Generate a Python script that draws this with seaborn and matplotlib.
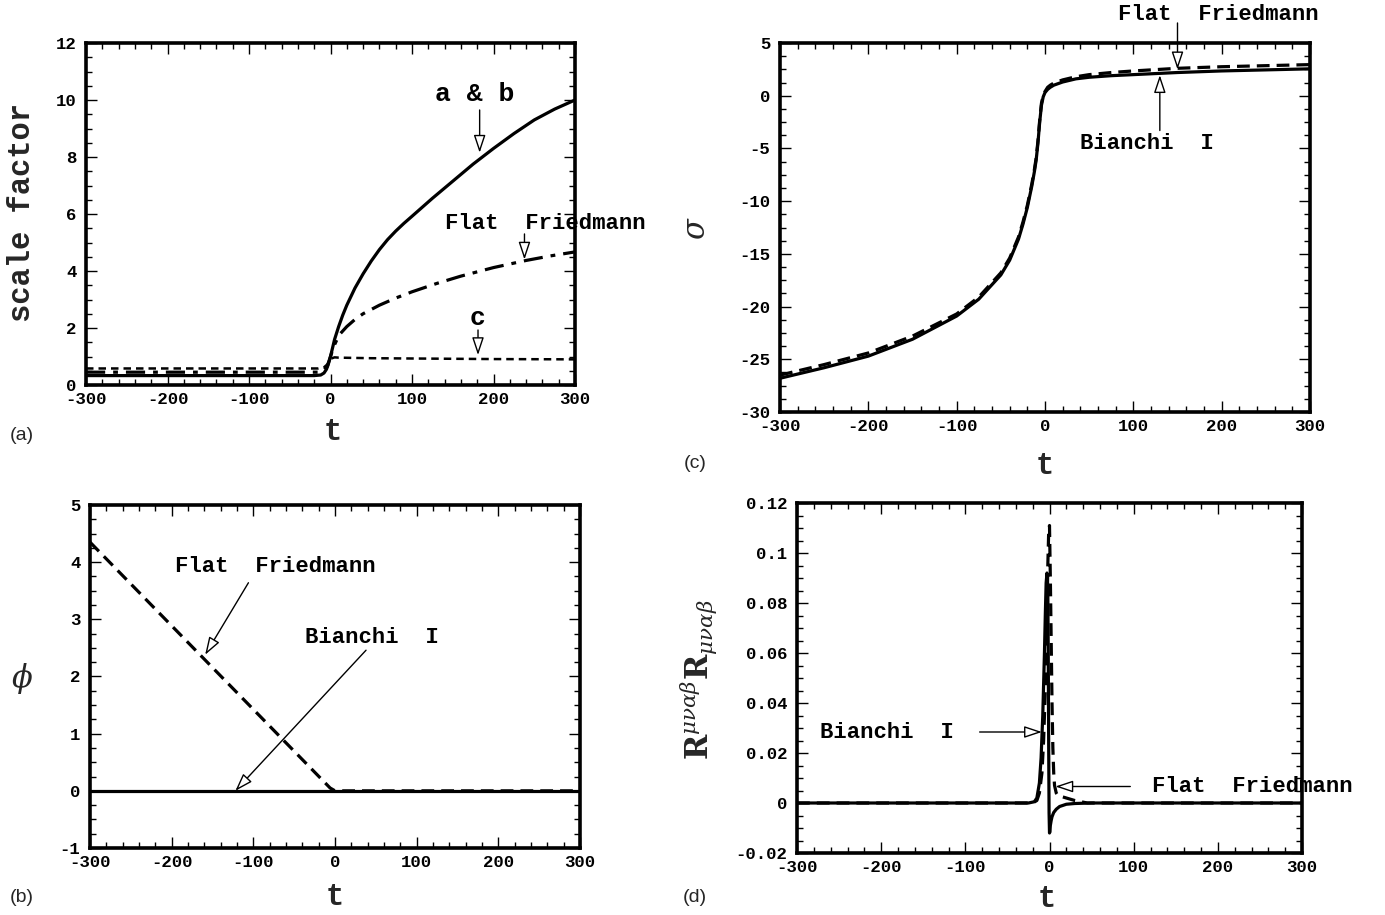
import numpy as np
import pandas as pd
import matplotlib
matplotlib.use("Agg")
import matplotlib.pyplot as plt
from matplotlib.ticker import MultipleLocator, FuncFormatter
import seaborn as sns

# ---------------- data ----------------
# (a) scale factor
a_ab_t = [-300, -20, -12, -8, -5, -3, 0, 5, 10, 15, 20, 30, 40, 50, 60, 70, 80,
          90, 100, 125, 150, 175, 200, 225, 250, 275, 300]
a_ab_v = [0.33, 0.33, 0.35, 0.42, 0.55, 0.7, 1.0, 1.6, 2.05, 2.45, 2.8, 3.4, 3.9,
          4.35, 4.75, 5.1, 5.4, 5.67, 5.92, 6.55, 7.15, 7.75, 8.3, 8.82, 9.3,
          9.68, 10.0]
a_ff_t = [-300, -15, -8, -4, 0, 4, 8, 12, 20, 30, 40, 60, 80, 100, 130, 160, 200,
          240, 270, 300]
a_ff_v = [0.45, 0.45, 0.5, 0.65, 1.0, 1.35, 1.6, 1.8, 2.05, 2.3, 2.5, 2.8, 3.05,
          3.27, 3.56, 3.82, 4.12, 4.37, 4.53, 4.67]
a_c_t = [-300, -15, -8, -4, 0, 5, 10, 50, 100, 200, 300]
a_c_v = [0.58, 0.58, 0.62, 0.72, 0.92, 0.97, 0.96, 0.94, 0.93, 0.91, 0.9]

# (b) phi
b_bi_t = [-300, 300]
b_bi_v = [0.0, 0.0]
b_ff_t = [-300, -6, 0, 300]
b_ff_v = [4.35, 0.05, 0.0, 0.0]

# (c) sigma
c_bi_t = [-300, -250, -200, -150, -100, -75, -50, -40, -30, -25, -20, -15, -12,
          -10, -8, -6, -4, -2, 0, 3, 6, 10, 20, 35, 50, 75, 100, 150, 200, 250, 300]
c_bi_v = [-26.8, -25.8, -24.7, -23.1, -20.9, -19.3, -17.0, -15.6, -13.6, -12.2,
          -10.6, -8.6, -7.2, -6.1, -4.5, -2.5, -0.9, -0.1, 0.3, 0.6, 0.8, 1.0,
          1.3, 1.6, 1.75, 1.9, 2.0, 2.2, 2.35, 2.45, 2.55]
c_ff_t = [-300, -250, -200, -150, -100, -75, -50, -40, -30, -25, -20, -15, -12,
          -10, -8, -6, -4, -2, 0, 3, 6, 10, 20, 35, 50, 75, 100, 150, 200, 250, 300]
c_ff_v = [-26.5, -25.5, -24.4, -22.8, -20.7, -19.1, -16.8, -15.4, -13.4, -12.0,
          -10.4, -8.4, -7.0, -5.9, -4.3, -2.3, -0.7, 0.0, 0.4, 0.8, 1.0, 1.2,
          1.5, 1.8, 2.0, 2.2, 2.35, 2.6, 2.75, 2.85, 2.95]

# (d) R^{..}R_{..}
d_bi_t = [-300, -25, -18, -15, -12, -10, -8, -6, -5, -4, -3, -2, -1.5, -1, -0.5,
          0, 0.5, 1, 2, 3, 5, 8, 12, 20, 30, 50, 300]
d_bi_v = [0, 0, 0.0005, 0.002, 0.008, 0.018, 0.035, 0.06, 0.075, 0.088, 0.092,
          0.085, 0.06, 0.025, -0.004, -0.012, -0.0115, -0.009, -0.007, -0.0055,
          -0.0038, -0.0025, -0.0014, -0.0005, -0.0002, 0, 0]
d_ff_t = [-300, -20, -15, -12, -9, -7, -5, -3, -2, -1, 0, 1, 2, 3, 4, 5, 6, 8, 10,
          15, 20, 30, 45, 300]
d_ff_v = [0, 0, 0.001, 0.004, 0.012, 0.025, 0.045, 0.075, 0.095, 0.108, 0.111,
          0.09, 0.065, 0.04, 0.022, 0.012, 0.007, 0.004, 0.003, 0.0025, 0.002,
          0.001, 0, 0]

# ---------------- style ----------------
sns.set_theme(style="ticks")
plt.rcParams["font.family"] = ["Liberation Mono", "DejaVu Sans"]
plt.rcParams["mathtext.fontset"] = "dejavuserif"

MONO = "Liberation Mono"
fig = plt.figure(figsize=(13.85, 9.15), dpi=100)
fig.patch.set_facecolor("white")

W, H = 1385.0, 915.0
def box(l, r, t, b):
    return [l / W, 1 - b / H, (r - l) / W, (b - t) / H]

ax_a = fig.add_axes(box(86, 575, 43, 385))
ax_b = fig.add_axes(box(90, 580, 505, 848))
ax_c = fig.add_axes(box(780, 1310, 43, 412))
ax_d = fig.add_axes(box(797, 1302, 503, 853))

LW = 2.3

def line(ax, t, v, **kw):
    df = pd.DataFrame({"t": t, "v": v})
    sns.lineplot(data=df, x="t", y="v", ax=ax, color="black", estimator=None,
                 sort=False, **kw)

fmt = FuncFormatter(lambda x, p: ("%g" % x).replace("\u2212", "-"))

def style(ax, ylim, ymaj, ymin):
    ax.set_xlim(-300, 300)
    ax.set_ylim(*ylim)
    ax.xaxis.set_major_locator(MultipleLocator(100))
    ax.xaxis.set_minor_locator(MultipleLocator(20))
    ax.yaxis.set_major_locator(MultipleLocator(ymaj))
    ax.yaxis.set_minor_locator(MultipleLocator(ymin))
    ax.xaxis.set_major_formatter(fmt)
    ax.yaxis.set_major_formatter(fmt)
    ax.tick_params(which="both", direction="in", top=True, right=True,
                   color="black", width=1.0)
    ax.tick_params(which="major", length=8)
    ax.tick_params(which="minor", length=4)
    ax.tick_params(axis="x", which="major", pad=5)
    ax.tick_params(axis="y", which="major", pad=7)
    for lab in ax.get_xticklabels() + ax.get_yticklabels():
        lab.set_fontfamily(MONO)
        lab.set_fontweight("bold")
        lab.set_fontsize(12.5)
        lab.set_color("black")
    for s in ax.spines.values():
        s.set_visible(True)
        s.set_linewidth(2.6)
        s.set_color("black")
    ax.set_xlabel("")
    ax.set_ylabel("")
    ax.set_facecolor("white")
    ax.grid(False)

ARW = dict(arrowstyle="-|>,head_length=0.9,head_width=0.3", facecolor="white",
           edgecolor="black", lw=1.0, shrinkA=0, shrinkB=0)

def arrow(ax, tail, head):
    ax.annotate("", xy=head, xytext=tail, xycoords="data", textcoords="data",
                arrowprops=ARW, annotation_clip=False)

def label(ax, x, y, s, size=16):
    ax.text(x, y, s, fontfamily=MONO, fontweight="bold", fontsize=size,
            ha="center", va="center", color="black", clip_on=False)

def xlab(x, y, s="t"):
    fig.text(x / W, 1 - y / H, s, fontfamily=MONO, fontweight="bold",
             fontsize=22, ha="center", va="center")

def panel(x, y, s):
    fig.text(x / W, 1 - y / H, s, fontfamily="Liberation Sans", fontsize=14,
             ha="center", va="center")

# ---------------- (a) ----------------
line(ax_a, a_c_t, a_c_v, linewidth=1.8, linestyle=(0, (3, 2)))
line(ax_a, a_ff_t, a_ff_v, linewidth=LW, linestyle=(0, (6, 2.5, 1.5, 2.5)))
line(ax_a, a_ab_t, a_ab_v, linewidth=LW, linestyle="-")
style(ax_a, (0, 12), 2, 0.5)
label(ax_a, 177, 10.2, "a & b", size=19)
arrow(ax_a, (183, 9.65), (183, 8.15))
label(ax_a, 264, 5.65, "Flat  Friedmann")
arrow(ax_a, (238, 5.3), (238, 4.4))
label(ax_a, 181, 2.35, "c", size=19)
arrow(ax_a, (181, 1.93), (181, 1.05))
xlab(333, 432)
fig.text(22 / W, 1 - 212 / H, "scale factor", fontfamily=MONO, fontweight="bold",
         fontsize=22, ha="center", va="center", rotation=90)
panel(22, 435, "(a)")

# ---------------- (b) ----------------
line(ax_b, b_bi_t, b_bi_v, linewidth=LW, linestyle="-")
line(ax_b, b_ff_t, b_ff_v, linewidth=LW, linestyle=(0, (4, 2.2)))
style(ax_b, (-1, 5), 1, 0.25)
label(ax_b, -73, 3.92, "Flat  Friedmann")
arrow(ax_b, (-106, 3.64), (-159, 2.38))
label(ax_b, 45, 2.69, "Bianchi  I")
arrow(ax_b, (38, 2.46), (-122, 0.0))
xlab(335, 897)
fig.text(22 / W, 1 - 678 / H, r"$\phi$", fontsize=22, ha="center", va="center")
panel(22, 897, "(b)")

# ---------------- (c) ----------------
line(ax_c, c_ff_t, c_ff_v, linewidth=LW, linestyle=(0, (4, 2.2)))
line(ax_c, c_bi_t, c_bi_v, linewidth=LW, linestyle="-")
style(ax_c, (-30, 5), 5, 1.25)
label(ax_c, 196, 7.66, "Flat  Friedmann")
arrow(ax_c, (150, 6.9), (150, 2.5))
label(ax_c, 115, -4.49, "Bianchi  I")
arrow(ax_c, (130, -3.3), (130, 1.95))
xlab(1045, 466)
fig.text(697 / W, 1 - 228 / H, r"$\sigma$", fontsize=22, ha="center",
         va="center", rotation=90)
panel(695, 464, "(c)")

# ---------------- (d) ----------------
line(ax_d, d_ff_t, d_ff_v, linewidth=LW, linestyle=(0, (4, 2.2)))
line(ax_d, d_bi_t, d_bi_v, linewidth=LW, linestyle="-")
style(ax_d, (-0.02, 0.12), 0.02, 0.005)
label(ax_d, -193, 0.0284, "Bianchi  I")
arrow(ax_d, (-83, 0.0284), (-9, 0.0284))
label(ax_d, 241, 0.0066, "Flat  Friedmann")
arrow(ax_d, (96, 0.0066), (7, 0.0066))
xlab(1047, 899)
fig.text(699 / W, 1 - 680 / H,
         r"$\mathbf{R}^{\mu\nu\alpha\beta}\mathbf{R}_{\mu\nu\alpha\beta}$",
         fontsize=22, ha="center", va="center", rotation=90)
panel(695, 897, "(d)")

fig.savefig("out.png", dpi=100, facecolor="white")
